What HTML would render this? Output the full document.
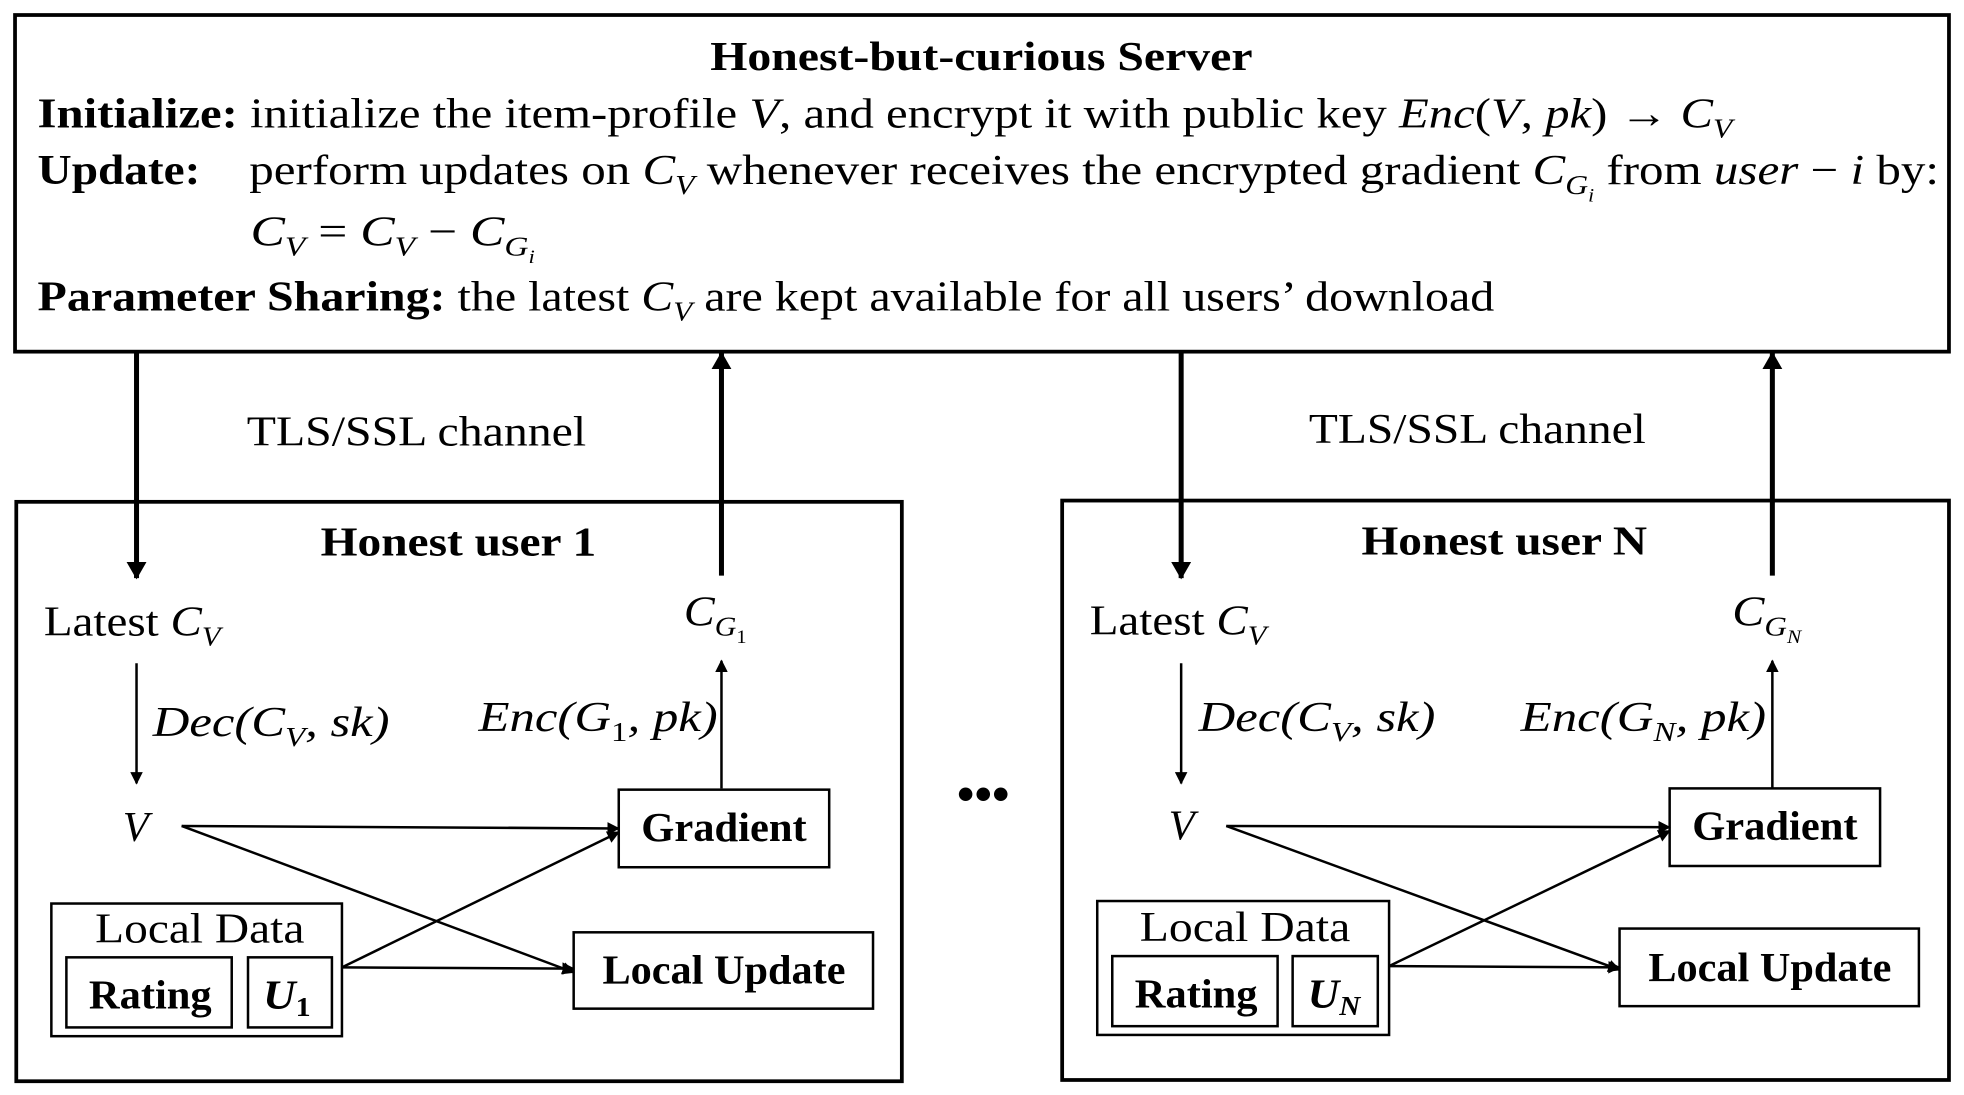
<!DOCTYPE html>
<html><head><meta charset="utf-8"><style>
html,body{margin:0;padding:0;background:#fff;}
svg{display:block}
text{font-family:"Liberation Serif",serif;fill:#000}
.b{font-weight:bold}
.i{font-style:italic}
</style></head><body>
<svg width="1964" height="1095" viewBox="0 0 1568 875" preserveAspectRatio="none" xmlns="http://www.w3.org/2000/svg">
<defs>
<marker id="a" markerWidth="10" markerHeight="10" refX="9" refY="5" orient="auto" markerUnits="userSpaceOnUse"><path d="M0,0 L10,5 L0,10 z" fill="#000"/></marker>
<marker id="A" markerWidth="14" markerHeight="16" refX="13" refY="8" orient="auto" markerUnits="userSpaceOnUse"><path d="M0,0 L14,8 L0,16 z" fill="#000"/></marker>
</defs>
<g fill="none" stroke="#000">
<rect x="12" y="12" width="1544" height="269" stroke-width="3"/>
<rect x="13" y="401" width="707" height="463" stroke-width="3"/>
<rect x="848" y="400" width="708" height="463" stroke-width="3"/>
<line x1="109" y1="281" x2="109" y2="462" stroke-width="4" marker-end="url(#A)"/>
<line x1="576" y1="460" x2="576" y2="282" stroke-width="4" marker-end="url(#A)"/>
<line x1="943" y1="281" x2="943" y2="462" stroke-width="4" marker-end="url(#A)"/>
<line x1="1415" y1="460" x2="1415" y2="282" stroke-width="4" marker-end="url(#A)"/>
<line x1="109" y1="530" x2="109" y2="626" stroke-width="2" marker-end="url(#a)"/>
<line x1="576" y1="630" x2="576" y2="528" stroke-width="2" marker-end="url(#a)"/>
<rect x="494" y="631" width="168" height="62" stroke-width="2"/>
<rect x="458" y="745" width="239" height="61" stroke-width="2"/>
<rect x="41" y="722" width="232" height="106" stroke-width="2"/>
<rect x="53" y="765" width="132" height="56" stroke-width="2"/>
<rect x="198" y="765" width="67" height="56" stroke-width="2"/>
<line x1="145" y1="660" x2="494" y2="662" stroke-width="2" marker-end="url(#a)"/>
<line x1="145" y1="660" x2="458" y2="777" stroke-width="2" marker-end="url(#a)"/>
<line x1="273" y1="773" x2="494" y2="665" stroke-width="2" marker-end="url(#a)"/>
<line x1="273" y1="773" x2="458" y2="774" stroke-width="2" marker-end="url(#a)"/>
<line x1="943" y1="530" x2="943" y2="626" stroke-width="2" marker-end="url(#a)"/>
<line x1="1415" y1="630" x2="1415" y2="528" stroke-width="2" marker-end="url(#a)"/>
<rect x="1333" y="630" width="168" height="62" stroke-width="2"/>
<rect x="1293" y="742" width="239" height="62" stroke-width="2"/>
<rect x="876" y="720" width="233" height="107" stroke-width="2"/>
<rect x="888" y="764" width="132" height="56" stroke-width="2"/>
<rect x="1032" y="764" width="68" height="56" stroke-width="2"/>
<line x1="979" y1="660" x2="1333" y2="661" stroke-width="2" marker-end="url(#a)"/>
<line x1="979" y1="660" x2="1293" y2="775" stroke-width="2" marker-end="url(#a)"/>
<line x1="1109" y1="772" x2="1333" y2="664" stroke-width="2" marker-end="url(#a)"/>
<line x1="1109" y1="772" x2="1293" y2="773" stroke-width="2" marker-end="url(#a)"/>
</g>
<g lengthAdjust="spacingAndGlyphs">
<text x="567" y="56" font-size="33" class="b" textLength="433" lengthAdjust="spacingAndGlyphs">Honest-but-curious Server</text>
<text x="30" y="102" font-size="34" textLength="1353" lengthAdjust="spacingAndGlyphs"><tspan class="b">Initialize:</tspan>  initialize the item-profile <tspan class="i">V</tspan>, and encrypt it with public key <tspan class="i">Enc</tspan>(<tspan class="i">V</tspan>, <tspan class="i">pk</tspan>) → <tspan class="i">C</tspan><tspan class="i" font-size="22" dy="8">V</tspan></text>
<text x="30" y="147" font-size="34" textLength="130" lengthAdjust="spacingAndGlyphs"><tspan class="b">Update:</tspan></text>
<text x="199" y="147" font-size="34" textLength="1349" lengthAdjust="spacingAndGlyphs">perform updates on <tspan class="i">C</tspan><tspan class="i" font-size="22" dy="8">V</tspan><tspan dy="-8"> whenever receives the encrypted gradient </tspan><tspan class="i">C</tspan><tspan class="i" font-size="22" dy="8">G</tspan><tspan class="i" font-size="15" dy="6">i</tspan><tspan dy="-14"> from </tspan><tspan class="i">user</tspan> − <tspan class="i">i</tspan> by:</text>
<text x="200" y="196" font-size="34" textLength="227" lengthAdjust="spacingAndGlyphs"><tspan class="i">C</tspan><tspan class="i" font-size="22" dy="8">V</tspan><tspan dy="-8"> = </tspan><tspan class="i">C</tspan><tspan class="i" font-size="22" dy="8">V</tspan><tspan dy="-8"> − </tspan><tspan class="i">C</tspan><tspan class="i" font-size="22" dy="8">G</tspan><tspan class="i" font-size="15" dy="6">i</tspan></text>
<text x="30" y="248" font-size="34" textLength="1163" lengthAdjust="spacingAndGlyphs"><tspan class="b">Parameter Sharing:</tspan> the latest <tspan class="i">C</tspan><tspan class="i" font-size="22" dy="8">V</tspan><tspan dy="-8"> are kept available for all users’ download</tspan></text>
<text x="197" y="356" font-size="34" textLength="271" lengthAdjust="spacingAndGlyphs">TLS/SSL channel</text>
<text x="1045" y="354" font-size="34" textLength="269" lengthAdjust="spacingAndGlyphs">TLS/SSL channel</text>
<text x="256" y="444" font-size="33" class="b" textLength="220" lengthAdjust="spacingAndGlyphs">Honest user 1</text>
<text x="1087" y="443" font-size="33" class="b" textLength="228" lengthAdjust="spacingAndGlyphs">Honest user N</text>
<text x="785" y="648" font-size="40" class="b" text-anchor="middle">•••</text>
<text x="35" y="508" font-size="34" textLength="141" lengthAdjust="spacingAndGlyphs">Latest <tspan class="i">C</tspan><tspan class="i" font-size="22" dy="8">V</tspan></text>
<text x="122" y="588" font-size="34" class="i" textLength="189" lengthAdjust="spacingAndGlyphs">Dec(C<tspan font-size="22" dy="8">V</tspan><tspan dy="-8">, sk)</tspan></text>
<text x="98" y="672" font-size="34" class="i">V</text>
<text x="546" y="500" font-size="34" class="i" textLength="50" lengthAdjust="spacingAndGlyphs">C<tspan font-size="22" dy="8">G</tspan><tspan font-size="15" dy="6" font-style="normal">1</tspan></text>
<text x="382" y="584" font-size="34" class="i" textLength="191" lengthAdjust="spacingAndGlyphs">Enc(G<tspan font-size="22" dy="8" font-style="normal">1</tspan><tspan dy="-8">, pk)</tspan></text>
<text x="512" y="672" font-size="33" class="b" textLength="132" lengthAdjust="spacingAndGlyphs">Gradient</text>
<text x="481" y="786" font-size="33" class="b" textLength="194" lengthAdjust="spacingAndGlyphs">Local Update</text>
<text x="76" y="753" font-size="34" textLength="167" lengthAdjust="spacingAndGlyphs">Local Data</text>
<text x="71" y="806" font-size="33" class="b" textLength="98" lengthAdjust="spacingAndGlyphs">Rating</text>
<text x="210" y="806" font-size="33" class="b i" textLength="38" lengthAdjust="spacingAndGlyphs">U<tspan font-size="22" dy="6" font-style="normal">1</tspan></text>
<text x="870" y="507" font-size="34" textLength="141" lengthAdjust="spacingAndGlyphs">Latest <tspan class="i">C</tspan><tspan class="i" font-size="22" dy="8">V</tspan></text>
<text x="957" y="584" font-size="34" class="i" textLength="189" lengthAdjust="spacingAndGlyphs">Dec(C<tspan font-size="22" dy="8">V</tspan><tspan dy="-8">, sk)</tspan></text>
<text x="933" y="671" font-size="34" class="i">V</text>
<text x="1383" y="500" font-size="34" class="i" textLength="55" lengthAdjust="spacingAndGlyphs">C<tspan font-size="22" dy="8">G</tspan><tspan font-size="15" dy="6">N</tspan></text>
<text x="1214" y="584" font-size="34" class="i" textLength="196" lengthAdjust="spacingAndGlyphs">Enc(G<tspan font-size="22" dy="8">N</tspan><tspan dy="-8">, pk)</tspan></text>
<text x="1351" y="671" font-size="33" class="b" textLength="132" lengthAdjust="spacingAndGlyphs">Gradient</text>
<text x="1316" y="784" font-size="33" class="b" textLength="194" lengthAdjust="spacingAndGlyphs">Local Update</text>
<text x="910" y="752" font-size="34" textLength="168" lengthAdjust="spacingAndGlyphs">Local Data</text>
<text x="906" y="805" font-size="33" class="b" textLength="98" lengthAdjust="spacingAndGlyphs">Rating</text>
<text x="1044" y="805" font-size="33" class="b i" textLength="42" lengthAdjust="spacingAndGlyphs">U<tspan font-size="22" dy="6">N</tspan></text>
</g>
</svg>
</body></html>
